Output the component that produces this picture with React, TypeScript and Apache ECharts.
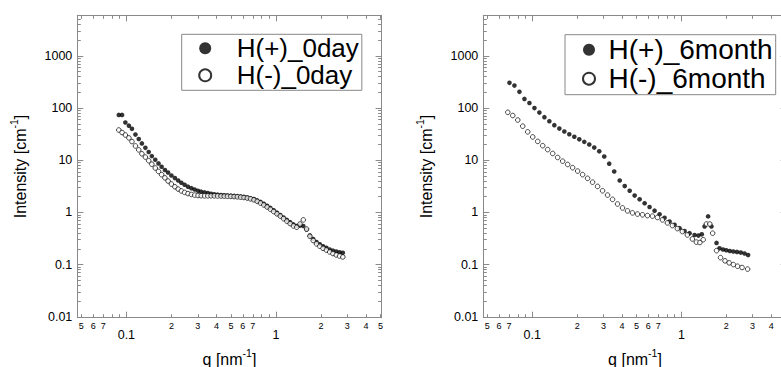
import React, { useEffect, useRef } from 'react';
import * as echarts from 'echarts';

// ---------- data ----------
const leftQ = [
  0.089, 0.0936, 0.0985, 0.104, 0.109, 0.115, 0.121, 0.127, 0.134, 0.141,
  0.148, 0.156, 0.164, 0.172, 0.181, 0.190, 0.200, 0.211, 0.222, 0.233,
  0.245, 0.258, 0.272, 0.286, 0.301, 0.316, 0.333, 0.350, 0.368, 0.387,
  0.407, 0.429, 0.451, 0.474, 0.499, 0.525, 0.552, 0.581, 0.611, 0.643,
  0.676, 0.712, 0.749, 0.788, 0.829, 0.872, 0.917, 0.965, 1.015, 1.068,
  1.123, 1.182, 1.243, 1.308, 1.376, 1.447, 1.522, 1.602, 1.685, 1.773,
  1.865, 1.962, 2.064, 2.171, 2.284, 2.403, 2.528, 2.659, 2.797,
];
const plus0day = [
  74, 74, 53, 46, 40, 31, 25.5, 21, 17.3, 14.4,
  12, 10.2, 8.7, 7.5, 6.5, 5.8, 5.1, 4.55, 4.1, 3.7,
  3.39, 3.12, 2.92, 2.75, 2.6, 2.5, 2.42, 2.35, 2.28, 2.22,
  2.19, 2.16, 2.13, 2.11, 2.09, 2.07, 2.05, 2.02, 1.98, 1.93,
  1.87, 1.8, 1.7, 1.59, 1.46, 1.34, 1.22, 1.1, 0.99, 0.89,
  0.8, 0.72, 0.65, 0.59, 0.55, 0.56, 0.55, 0.47, 0.36, 0.31,
  0.27, 0.245, 0.225, 0.21, 0.195, 0.185, 0.178, 0.172, 0.168,
];
const minus0day = [
  38, 34, 30.5, 26.8, 22.8, 18.8, 15.8, 13.3, 11.5, 9.8,
  8.4, 7.1, 6.1, 5.3, 4.6, 4.0, 3.5, 3.1, 2.8, 2.58,
  2.42, 2.3, 2.21, 2.15, 2.11, 2.09, 2.08, 2.08, 2.08, 2.08,
  2.07, 2.06, 2.05, 2.04, 2.03, 2.01, 1.99, 1.96, 1.93, 1.88,
  1.82, 1.74, 1.63, 1.51, 1.39, 1.27, 1.15, 1.04, 0.94, 0.85,
  0.76, 0.68, 0.61, 0.55, 0.52, 0.6, 0.72, 0.48, 0.35, 0.29,
  0.25, 0.225, 0.205, 0.19, 0.175, 0.163, 0.153, 0.146, 0.14,
];

const plus6monthQ = [
  0.0704, 0.076, 0.0821, 0.0887, 0.0958, 0.1035, 0.1117, 0.1207, 0.1303, 0.1407,
  0.152, 0.1642, 0.1773, 0.1915, 0.2068, 0.2234, 0.2412, 0.2605, 0.2814, 0.3039,
  0.3282, 0.3545, 0.386, 0.417, 0.45, 0.486, 0.525, 0.567, 0.612, 0.661,
  0.714, 0.771, 0.833, 0.9, 0.972, 1.05, 1.134, 1.225, 1.3, 1.37,
  1.43, 1.51, 1.59, 1.72, 1.8, 1.9, 2.0, 2.11, 2.23, 2.36,
  2.5, 2.65, 2.8,
];
const plus6month = [
  305, 270, 205, 150, 125, 100, 82, 67, 56, 47,
  40.5, 35.5, 31.5, 28.2, 25.2, 22.5, 20, 17.5, 14.8, 11.8,
  8.6, 6.1, 4.1, 3.2, 2.6, 2.1, 1.78, 1.5, 1.27, 1.08,
  0.92, 0.79, 0.67, 0.58, 0.5, 0.44, 0.4, 0.37, 0.36, 0.38,
  0.54, 0.84, 0.54, 0.26, 0.205, 0.195, 0.188, 0.182, 0.178, 0.175,
  0.17, 0.163, 0.152,
];
const minus6monthQ = [
  0.0686, 0.0741, 0.08, 0.0864, 0.0933, 0.1008, 0.1089, 0.1176, 0.127, 0.1372,
  0.1481, 0.16, 0.1728, 0.1866, 0.2016, 0.2177, 0.2351, 0.2539, 0.2742, 0.2962,
  0.3199, 0.3455, 0.3731, 0.403, 0.4352, 0.47, 0.5076, 0.5482, 0.5921, 0.6395,
  0.6906, 0.7459, 0.8055, 0.87, 0.9396, 1.0148, 1.096, 1.1836, 1.26, 1.33,
  1.4, 1.47, 1.55, 1.62, 1.72, 1.83, 1.96, 2.09, 2.23, 2.38,
  2.55, 2.78,
];
const minus6month = [
  83, 72, 59, 45, 35, 28, 23, 19, 16, 13.5,
  11.3, 9.6, 8.3, 7.2, 6.2, 5.3, 4.5, 3.8, 3.15, 2.6,
  2.15, 1.78, 1.45, 1.22, 1.07, 0.98, 0.93, 0.9, 0.87, 0.85,
  0.8, 0.72, 0.63, 0.56, 0.49, 0.43, 0.37, 0.31, 0.27, 0.265,
  0.3, 0.6, 0.6, 0.4, 0.185, 0.136, 0.118, 0.108, 0.1, 0.093,
  0.088, 0.082,
];

// ---------- ticks ----------
const xMajorTicks = [0.1, 1];
const xMinorTicks = [0.05, 0.06, 0.07, 0.08, 0.09, 0.2, 0.3, 0.4, 0.5, 0.6, 0.7, 0.8, 0.9, 2, 3, 4, 5];
const xMinorLabelsLeft = [0.05, 0.06, 0.07, 0.2, 0.3, 0.4, 0.5, 0.6, 0.7, 2, 3, 4, 5];
const xMinorLabelsRight = [0.05, 0.06, 0.07, 0.2, 0.3, 0.4, 0.5, 0.6, 0.7, 2, 3, 4];
const yMajorTicks = [0.01, 0.1, 1, 10, 100, 1000];
const yMinorTicks = [
  0.02, 0.03, 0.04, 0.05, 0.06, 0.07, 0.08, 0.09,
  0.2, 0.3, 0.4, 0.5, 0.6, 0.7, 0.8, 0.9,
  2, 3, 4, 5, 6, 7, 8, 9,
  20, 30, 40, 50, 60, 70, 80, 90,
  200, 300, 400, 500, 600, 700, 800, 900,
  2000, 3000, 4000, 5000,
];

const X_MIN = 0.047;
const X_MAX = 5.08;
const Y_MIN = 0.0096;
const Y_MAX = 6000;

const FONT = "'Liberation Sans', Arial, Helvetica, sans-serif";
const AX = '#8a8a8a';

const minorDigit = (v: number) => {
  const e = Math.floor(Math.log10(v) + 1e-9);
  return String(Math.round(v / Math.pow(10, e)));
};

const nameStyle = {
  fontFamily: FONT,
  color: '#000',
  rich: {
    a: { fontSize: 16, fontFamily: FONT, color: '#000', lineHeight: 24 },
    s: { fontSize: 10.5, fontFamily: FONT, color: '#000', lineHeight: 8, verticalAlign: 'top' },
  },
};

function xAxesFor(g: number, minorLabels: number[]) {
  const base = {
    type: 'log',
    logBase: 10,
    gridIndex: g,
    min: X_MIN,
    max: X_MAX,
    splitLine: { show: false },
  };
  const line = { show: true, onZero: false, lineStyle: { color: AX, width: 1 } };
  const noLine = { show: false, onZero: false };
  return [
    {
      ...base,
      position: 'bottom',
      axisLine: line,
      axisTick: { show: true, inside: true, length: 6, customValues: xMajorTicks, lineStyle: { color: AX } },
      axisLabel: { customValues: xMajorTicks, formatter: (v: number) => String(v), fontSize: 12.5, color: '#000', fontFamily: FONT, margin: 11 },
      name: '{a|q [nm}{s|-1}{a|]}',
      nameLocation: 'middle',
      nameGap: 30,
      nameTextStyle: nameStyle,
    },
    {
      ...base,
      position: 'bottom',
      axisLine: noLine,
      axisTick: { show: true, inside: true, length: 3.5, customValues: xMinorTicks, lineStyle: { color: AX } },
      axisLabel: { customValues: minorLabels, formatter: minorDigit, fontSize: 9, color: '#000', fontFamily: FONT, margin: 3.5 },
    },
    {
      ...base,
      position: 'top',
      axisLine: line,
      axisTick: { show: true, inside: true, length: 6, customValues: xMajorTicks, lineStyle: { color: AX } },
      axisLabel: { show: false },
    },
    {
      ...base,
      position: 'top',
      axisLine: noLine,
      axisTick: { show: true, inside: true, length: 3.5, customValues: xMinorTicks, lineStyle: { color: AX } },
      axisLabel: { show: false },
    },
  ];
}

function yAxesFor(g: number) {
  const base = {
    type: 'log',
    logBase: 10,
    gridIndex: g,
    min: Y_MIN,
    max: Y_MAX,
    splitLine: { show: false },
  };
  const line = { show: true, onZero: false, lineStyle: { color: AX, width: 1 } };
  const noLine = { show: false, onZero: false };
  return [
    {
      ...base,
      position: 'left',
      axisLine: line,
      axisTick: { show: true, inside: true, length: 6, customValues: yMajorTicks, lineStyle: { color: AX } },
      axisLabel: { customValues: yMajorTicks, formatter: (v: number) => String(v), fontSize: 12.5, color: '#000', fontFamily: FONT, margin: 5 },
      name: '{a|Intensity [cm}{s|-1}{a|]}',
      nameLocation: 'middle',
      nameGap: 45,
      nameTextStyle: nameStyle,
    },
    {
      ...base,
      position: 'left',
      axisLine: noLine,
      axisTick: { show: true, inside: true, length: 3.5, customValues: yMinorTicks, lineStyle: { color: AX } },
      axisLabel: { show: false },
    },
    {
      ...base,
      position: 'right',
      axisLine: line,
      axisTick: { show: true, inside: true, length: 6, customValues: yMajorTicks, lineStyle: { color: AX } },
      axisLabel: { show: false },
    },
    {
      ...base,
      position: 'right',
      axisLine: noLine,
      axisTick: { show: true, inside: true, length: 3.5, customValues: yMinorTicks, lineStyle: { color: AX } },
      axisLabel: { show: false },
    },
  ];
}

const zip = (qs: number[], vs: number[]) => qs.map((q, i) => [q, vs[i]]);

const filled = { color: '#000' };
const hollow = { color: '#fff', borderColor: '#000', borderWidth: 0.9 };

export default function App() {
  const ref = useRef<HTMLDivElement>(null);
  useEffect(() => {
    if (!ref.current) return;
    const chart = echarts.init(ref.current, undefined, { renderer: 'svg' });
    const legendCommon = {
      orient: 'vertical',
      icon: 'circle',
      itemHeight: 12,
      itemWidth: 25,
      itemGap: 1,
      borderColor: '#888',
      borderWidth: 1,
      selectedMode: false,
      backgroundColor: '#fff',
    };
    chart.setOption({
      animation: false,
      grid: [
        { left: 77.3, top: 15.3, width: 304.3, height: 302.4, outerBoundsMode: 'none', containLabel: false },
        { left: 483.3, top: 15.3, width: 303.4, height: 302.4, outerBoundsMode: 'none', containLabel: false },
      ],
      xAxis: [...xAxesFor(0, xMinorLabelsLeft), ...xAxesFor(1, xMinorLabelsRight)],
      yAxis: [...yAxesFor(0), ...yAxesFor(1)],
      legend: [
        {
          ...legendCommon,
          data: ['H(+)_0day', 'H(-)_0day'],
          left: 181.7,
          top: 34.3,
          padding: [1, 3, 2, 16.5],
          textStyle: { fontSize: 26, lineHeight: 26, fontFamily: FONT, color: '#000', padding: [0, 0, 0, 14] },
        },
        {
          ...legendCommon,
          data: ['H(+)_6month', 'H(-)_6month'],
          left: 565,
          top: 34.7,
          padding: [1, 3, 2, 17],
          textStyle: { fontSize: 28, lineHeight: 26, fontFamily: FONT, color: '#000', padding: [0, 0, 0, 2] },
        },
      ],
      series: [
        { name: 'H(+)_0day', type: 'scatter', xAxisIndex: 0, yAxisIndex: 0, data: zip(leftQ, plus0day), symbol: 'circle', symbolSize: 4.6, itemStyle: filled },
        { name: 'H(-)_0day', type: 'scatter', xAxisIndex: 0, yAxisIndex: 0, data: zip(leftQ, minus0day), symbol: 'circle', symbolSize: 4.6, itemStyle: hollow },
        { name: 'H(+)_6month', type: 'scatter', xAxisIndex: 4, yAxisIndex: 4, data: zip(plus6monthQ, plus6month), symbol: 'circle', symbolSize: 4.6, itemStyle: filled },
        { name: 'H(-)_6month', type: 'scatter', xAxisIndex: 4, yAxisIndex: 4, data: zip(minus6monthQ, minus6month), symbol: 'circle', symbolSize: 4.6, itemStyle: hollow },
      ],
    });
    return () => chart.dispose();
  }, []);
  return (
    <div style={{ position: 'absolute', left: 0, top: 0, width: 781, height: 367, overflow: 'hidden', background: '#fff' }}>
      <div ref={ref} style={{ position: 'absolute', left: 0, top: 0, width: 781, height: 367 }} />
    </div>
  );
}
